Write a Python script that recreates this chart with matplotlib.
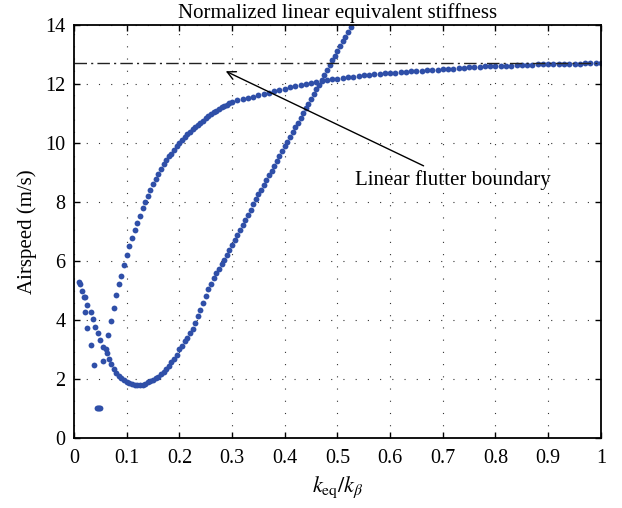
import numpy as np
import matplotlib
matplotlib.use('Agg')
import matplotlib.pyplot as plt

plt.rcParams['font.family'] = ['Liberation Serif', 'DejaVu Serif']
plt.rcParams['mathtext.fontset'] = 'stix'

# 上支（颤振模态，趋近线性颤振边界）
upper_x = [0.055, 0.060, 0.065, 0.070, 0.075, 0.080, 0.085, 0.090, 0.095, 0.100,
           0.105, 0.110, 0.115, 0.120, 0.125, 0.130, 0.135, 0.140, 0.145, 0.150,
           0.155, 0.160, 0.165, 0.170, 0.175, 0.180, 0.185, 0.190, 0.195, 0.200,
           0.205, 0.210, 0.215, 0.220, 0.225, 0.230, 0.235, 0.240, 0.245, 0.250,
           0.255, 0.260, 0.265, 0.270, 0.275, 0.280, 0.285, 0.290, 0.295, 0.300,
           0.31, 0.32, 0.33, 0.34, 0.35, 0.36, 0.37, 0.38, 0.39, 0.40,
           0.41, 0.42, 0.43, 0.44, 0.45, 0.46, 0.47, 0.48, 0.49, 0.50,
           0.51, 0.52, 0.53, 0.54, 0.55, 0.56, 0.57, 0.58, 0.59, 0.60,
           0.61, 0.62, 0.63, 0.64, 0.65, 0.66, 0.67, 0.68, 0.69, 0.70,
           0.71, 0.72, 0.73, 0.74, 0.75, 0.76, 0.77, 0.78, 0.79, 0.80,
           0.81, 0.82, 0.83, 0.84, 0.85, 0.86, 0.87, 0.88, 0.89, 0.90,
           0.91, 0.92, 0.93, 0.94, 0.95, 0.96, 0.97, 0.98, 0.99, 1.00]
upper_y = [2.60, 3.02, 3.50, 3.97, 4.42, 4.85, 5.21, 5.50, 5.86, 6.20,
           6.49, 6.78, 7.06, 7.28, 7.52, 7.80, 8.01, 8.20, 8.42, 8.60,
           8.79, 8.96, 9.12, 9.29, 9.42, 9.54, 9.64, 9.76, 9.89, 10.01,
           10.10, 10.19, 10.30, 10.38, 10.47, 10.54, 10.61, 10.68, 10.75, 10.86,
           10.92, 10.98, 11.04, 11.09, 11.14, 11.20, 11.25, 11.30, 11.35, 11.39,
           11.44, 11.48, 11.53, 11.57, 11.61, 11.65, 11.70, 11.75, 11.80, 11.84,
           11.89, 11.92, 11.95, 11.99, 12.02, 12.05, 12.09, 12.12, 12.15, 12.18,
           12.21, 12.23, 12.25, 12.27, 12.29, 12.31, 12.33, 12.35, 12.36, 12.37,
           12.38, 12.39, 12.41, 12.43, 12.44, 12.45, 12.46, 12.47, 12.48, 12.50,
           12.51, 12.52, 12.53, 12.55, 12.56, 12.57, 12.58, 12.59, 12.59, 12.60,
           12.61, 12.62, 12.62, 12.63, 12.63, 12.64, 12.65, 12.66, 12.66, 12.67,
           12.67, 12.67, 12.68, 12.68, 12.69, 12.69, 12.70, 12.70, 12.70, 12.70]

# 下支（U形曲线 + 直线上升段）
lower_x = [0.010, 0.012, 0.015, 0.018, 0.021, 0.025, 0.032, 0.036, 0.040, 0.045,
           0.050, 0.055, 0.062, 0.066, 0.071, 0.075, 0.080, 0.085, 0.090, 0.095,
           0.100, 0.105, 0.110, 0.115, 0.120, 0.125, 0.130, 0.135, 0.140, 0.145,
           0.150, 0.155, 0.160, 0.165, 0.170, 0.175, 0.180, 0.185, 0.190, 0.195,
           0.200, 0.205, 0.210, 0.215, 0.220, 0.225, 0.230, 0.235, 0.240, 0.245,
           0.250, 0.255, 0.260, 0.265, 0.270, 0.275, 0.280, 0.285, 0.290, 0.295,
           0.300, 0.305, 0.310, 0.315, 0.320, 0.325, 0.330, 0.335, 0.340, 0.345,
           0.350, 0.355, 0.360, 0.365, 0.370, 0.375, 0.380, 0.385, 0.390, 0.395,
           0.400, 0.405, 0.410, 0.415, 0.420, 0.425, 0.430, 0.435, 0.440, 0.445,
           0.450, 0.455, 0.460, 0.465, 0.470, 0.475, 0.480, 0.485, 0.490, 0.495,
           0.500, 0.505, 0.510, 0.515, 0.520, 0.525]
lower_y = [5.28, 5.22, 4.99, 4.77, 4.77, 4.52, 4.27, 4.02, 3.77, 3.55,
           3.32, 3.07, 2.87, 2.67, 2.50, 2.33, 2.20, 2.10, 2.02, 1.95,
           1.89, 1.85, 1.82, 1.81, 1.80, 1.80, 1.81, 1.84, 1.88, 1.92,
           1.97, 2.02, 2.08, 2.15, 2.23, 2.32, 2.45, 2.57, 2.68, 2.82,
           3.00, 3.13, 3.27, 3.40, 3.55, 3.70, 3.90, 4.12, 4.35, 4.58,
           4.80, 5.04, 5.22, 5.42, 5.60, 5.74, 5.90, 6.04, 6.20, 6.37,
           6.53, 6.71, 6.88, 7.05, 7.22, 7.39, 7.55, 7.73, 7.92, 8.09,
           8.26, 8.42, 8.58, 8.74, 8.90, 9.06, 9.23, 9.39, 9.56, 9.72,
           9.88, 10.04, 10.20, 10.37, 10.53, 10.69, 10.85, 11.01, 11.17, 11.33,
           11.49, 11.65, 11.81, 11.97, 12.14, 12.31, 12.47, 12.63, 12.80, 12.96,
           13.12, 13.28, 13.44, 13.60, 13.76, 13.92]

# 左侧零散点
scatter_x = [0.020, 0.025, 0.032, 0.037, 0.044, 0.046, 0.048, 0.050]
scatter_y = [4.27, 3.74, 3.16, 2.46, 1.00, 1.00, 1.00, 1.00]

flutter_speed = 12.72

fig = plt.figure(figsize=(6.22, 5.08), dpi=100)
ax = fig.add_axes([0.119, 0.138, 0.847, 0.813])

blue = '#2f4fa8'
ax.plot(lower_x, lower_y, 'o', color=blue, ms=4.2, mew=0)
ax.plot(upper_x, upper_y, 'o', color=blue, ms=4.2, mew=0)
ax.plot(scatter_x, scatter_y, 'o', color=blue, ms=4.2, mew=0)

ax.axhline(flutter_speed, color='#222222', lw=1.0, ls=(0, (9, 3, 1.5, 3)))

ax.set_xlim(0, 1)
ax.set_ylim(0, 14)
ax.set_xticks(np.arange(0, 1.01, 0.1))
ax.set_xticklabels(['0', '0.1', '0.2', '0.3', '0.4', '0.5', '0.6', '0.7', '0.8', '0.9', '1'])
ax.set_yticks(range(0, 15, 2))
ax.grid(True, color='#333333', lw=0.8, ls=(0, (1, 10)))
ax.tick_params(direction='in', top=True, right=True, length=4, width=1, labelsize=14.5, pad=6)
ax.tick_params(axis='x', pad=8)
for s in ax.spines.values():
    s.set_linewidth(1.3)

ax.set_title('Normalized linear equivalent stiffness', fontsize=15, pad=5)
ax.set_xlabel(r'$k_{\mathrm{eq}}/k_{\beta}$', fontsize=16, labelpad=5)
ax.set_ylabel('Airspeed (m/s)', fontsize=15, labelpad=6)

ax.annotate('Linear flutter boundary', xy=(0.288, 12.43), xytext=(0.533, 8.75),
            fontsize=15, va='center', ha='left',
            arrowprops=dict(arrowstyle='->', color='black', lw=1.0, shrinkA=2, shrinkB=0))

fig.savefig('out.png', dpi=100)
